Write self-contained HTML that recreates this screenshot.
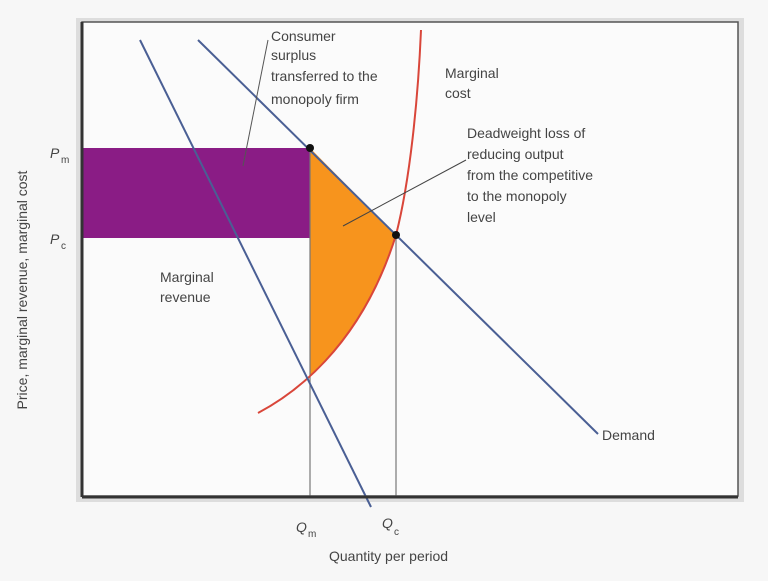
<!DOCTYPE html>
<html><head><style>
body{margin:0;background:#f7f7f7;width:768px;height:576px;overflow:hidden}
</style></head><body>
<svg width="768" height="576" xmlns="http://www.w3.org/2000/svg" font-family="Liberation Sans, sans-serif" fill="#444">
<defs><clipPath id="c"><rect x="310" y="0" width="200" height="500"/></clipPath></defs>
<rect x="76" y="18" width="668" height="484" fill="#ddd"/>
<rect x="82" y="22" width="656" height="474" fill="#fbfbfb" stroke="#555" stroke-width="1.5"/>
<rect x="83" y="148" width="227" height="90" fill="#8a1c85"/>
<path clip-path="url(#c)" d="M310,148 L396,235 C360,350 290,396 258,413 L258,148 Z" fill="#f7941d"/>
<line x1="310" y1="148" x2="310" y2="496" stroke="#777" stroke-width="1.2"/>
<line x1="396" y1="235" x2="396" y2="496" stroke="#777" stroke-width="1.2"/>
<path d="M258,413 C290,396 360,350 396,235 C410,180 418,100 421,30" fill="none" stroke="#d9463a" stroke-width="2"/>
<line x1="198" y1="40" x2="598" y2="434" stroke="#4a5f94" stroke-width="2"/>
<line x1="140" y1="40" x2="371" y2="507" stroke="#4a5f94" stroke-width="2"/>
<line x1="82" y1="22" x2="82" y2="497" stroke="#333" stroke-width="3"/>
<line x1="82" y1="497" x2="738" y2="497" stroke="#333" stroke-width="3"/>
<circle cx="310" cy="148" r="4" fill="#111"/>
<circle cx="396" cy="235" r="4" fill="#111"/>
<line x1="268" y1="40" x2="243" y2="166" stroke="#555" stroke-width="1"/>
<line x1="466" y1="160" x2="343" y2="226" stroke="#444" stroke-width="1"/>
<g font-size="14">
<text x="271" y="41">Consumer</text>
<text x="271" y="60">surplus</text>
<text x="271" y="81">transferred to the</text>
<text x="271" y="104">monopoly firm</text>
<text x="445" y="78">Marginal</text>
<text x="445" y="98">cost</text>
<text x="467" y="138">Deadweight loss of</text>
<text x="467" y="159">reducing output</text>
<text x="467" y="180">from the competitive</text>
<text x="467" y="201">to the monopoly</text>
<text x="467" y="222">level</text>
<text x="160" y="282">Marginal</text>
<text x="160" y="302">revenue</text>
<text x="602" y="440">Demand</text>
<text x="329" y="561">Quantity per period</text>
<text transform="translate(27,290) rotate(-90)" text-anchor="middle">Price, marginal revenue, marginal cost</text>
<text x="50" y="158" font-style="italic">P</text><text x="61" y="163" font-size="10">m</text>
<text x="50" y="244" font-style="italic">P</text><text x="61" y="249" font-size="10">c</text>
<text x="296" y="532" font-style="italic">Q</text><text x="308" y="537" font-size="10">m</text>
<text x="382" y="528" font-style="italic">Q</text><text x="394" y="535" font-size="10">c</text>
</g>
</svg>
</body></html>
